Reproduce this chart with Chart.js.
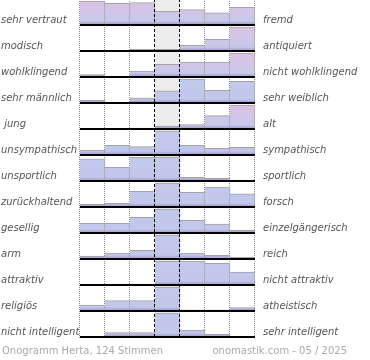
<!DOCTYPE html>
<html>
<head>
<meta charset="utf-8">
<script src="https://cdn.jsdelivr.net/npm/chart.js@4/dist/chart.umd.min.js"></script>
<style>
  html, body { margin: 0; padding: 0; background: #fff; width: 370px; height: 360px; overflow: hidden; }
  #wrap { position: relative; width: 370px; height: 360px; }
  #c { position: absolute; left: 0; top: -1px; }
  .foot { position: absolute; top: 345px; font: 10px "DejaVu Sans", sans-serif; color: #aaa; white-space: nowrap; }
</style>
</head>
<body>
<div id="wrap">
  <canvas id="c" width="370" height="361"></canvas>
  <div class="foot" id="footL" style="left:2px;"></div>
  <div class="foot" id="footR" style="right:23px;"></div>
</div>
<script>
// ---- data ----
const categories = ['1', '2', '3', '4', '5', '6', '7'];
const leftLabels = ['sehr vertraut', 'modisch', 'wohlklingend', 'sehr männlich', ' jung', 'unsympathisch',
  'unsportlich', 'zurückhaltend', 'gesellig', 'arm', 'attraktiv', 'religiös', 'nicht intelligent'];
const rightLabels = ['fremd', 'antiquiert', 'nicht wohlklingend', 'sehr weiblich', 'alt', 'sympathisch',
  'sportlich', 'forsch', 'einzelgängerisch', 'reich', 'nicht attraktiv', 'atheistisch', 'sehr intelligent'];
// relative share per answer (row maximum = 100)
const rowValues = [
  [100, 90, 93, 57, 64, 51, 74],
  [0, 0, 7, 7, 24, 49, 100],
  [10, 0, 25, 53, 62, 62, 100],
  [12, 0, 22, 51, 100, 53, 90],
  [0, 0, 4, 12, 18, 56, 100],
  [21, 40, 35, 100, 40, 28, 32],
  [92, 57, 99, 100, 15, 11, 4],
  [11, 15, 65, 100, 61, 83, 55],
  [40, 40, 65, 100, 53, 37, 11],
  [12, 25, 36, 100, 25, 15, 7],
  [2, 4, 4, 99, 100, 90, 54],
  [25, 43, 43, 100, 5, 5, 14],
  [2, 18, 18, 100, 29, 12, 2]
];
const footLeft = 'Onogramm Herta, 124 Stimmen';
const footRight = 'onomastik.com - 05 / 2025';

// ---- styling ----
const pinkRows = [true, true, true, false, true, false, false, false, false, false, false, false, false];
const FILL = 24 / 26; // max bar height relative to row height

document.getElementById('footL').textContent = footLeft;
document.getElementById('footR').textContent = footRight;

const nRows = rowValues.length;

function barFill(ctx) {
  const chart = ctx.chart;
  const y = chart.scales.y;
  if (!chart.chartArea || !y) return '#c4cae9';
  const r = ctx.datasetIndex;
  const top = y.getPixelForValue(r);
  const bot = y.getPixelForValue(r + 1);
  const g = chart.ctx.createLinearGradient(0, top, 0, bot);
  if (pinkRows[r]) {
    g.addColorStop(0, '#dcc3e3');
    g.addColorStop(0.45, '#d2c4e6');
    g.addColorStop(0.85, '#c6c9ea');
  } else {
    g.addColorStop(0, '#c2c9eb');
    g.addColorStop(0.85, '#c1c7ea');
  }
  g.addColorStop(0.9, '#b9b6de');
  g.addColorStop(1, '#a393c8');
  return g;
}

const datasets = rowValues.map((vals, r) => ({
  label: leftLabels[r] + ' / ' + rightLabels[r],
  data: vals.map(v => [r + 1 - (v / 100) * FILL, r + 1]),
  backgroundColor: barFill,
  borderColor: '#a2a2a2',
  borderWidth: { top: 1, right: 1, left: 0, bottom: 0 },
  borderSkipped: false,
  grouped: false,
  barPercentage: 1,
  categoryPercentage: 1,
  yAxisID: 'y'
}));

function rowTicks(scale) {
  scale.ticks = leftLabels.map((_, i) => ({ value: i + 0.5 }));
}

const decor = {
  id: 'decor',
  beforeDatasetsDraw(chart) {
    const { ctx, chartArea: a, scales: { x } } = chart;
    const w = x.getPixelForValue(1) - x.getPixelForValue(0);
    ctx.save();
    // highlighted neutral column
    const cx = x.getPixelForValue(3);
    ctx.fillStyle = '#ededed';
    ctx.fillRect(cx - w / 2, a.top, w, a.bottom - a.top);
    // dotted boundaries
    ctx.strokeStyle = '#8a8a8a';
    ctx.lineWidth = 1;
    ctx.setLineDash([1, 1]);
    for (let i = 0; i <= categories.length; i++) {
      if (i === 3 || i === 4) continue;
      const bx = Math.round(x.getPixelForValue(0) - w / 2 + i * w) - 0.5;
      ctx.beginPath();
      ctx.moveTo(bx, a.top);
      ctx.lineTo(bx, a.bottom + 1);
      ctx.stroke();
    }
    ctx.restore();
  },
  afterDatasetsDraw(chart) {
    const { ctx, chartArea: a, scales: { x, y } } = chart;
    const w = x.getPixelForValue(1) - x.getPixelForValue(0);
    ctx.save();
    // dashed neutral column borders
    ctx.strokeStyle = '#000';
    ctx.lineWidth = 1;
    ctx.setLineDash([3, 2]);
    [3, 4].forEach(i => {
      const bx = Math.round(x.getPixelForValue(0) - w / 2 + i * w) - 0.5;
      ctx.beginPath();
      ctx.moveTo(bx, a.top);
      ctx.lineTo(bx, a.bottom + 1);
      ctx.stroke();
    });
    // row baselines
    ctx.setLineDash([]);
    ctx.lineWidth = 2;
    for (let r = 0; r < nRows; r++) {
      const by = Math.round(y.getPixelForValue(r + 1));
      ctx.beginPath();
      ctx.moveTo(a.left, by);
      ctx.lineTo(a.right, by);
      ctx.stroke();
    }
    ctx.restore();
  }
};

const tickFont = { family: 'DejaVu Sans', size: 10, style: 'italic' };

new Chart(document.getElementById('c'), {
  type: 'bar',
  data: { labels: categories, datasets },
  options: {
    responsive: false,
    animation: false,
    devicePixelRatio: 1,
    layout: { padding: { left: 1, right: 0, top: 0, bottom: 23 } },
    plugins: { legend: { display: false }, tooltip: { enabled: false } },
    scales: {
      x: { type: 'category', display: false, offset: true },
      y: {
        type: 'linear', position: 'left', min: 0, max: nRows, reverse: true,
        grid: { display: false }, border: { display: false },
        afterBuildTicks: rowTicks,
        afterFit(s) { s.width = 79; s.paddingTop = 0; s.paddingBottom = 0; },
        ticks: {
          autoSkip: false, crossAlign: 'far', padding: 4, labelOffset: 8,
          color: '#555', font: tickFont,
          callback: (v, i) => leftLabels[i]
        }
      },
      y2: {
        type: 'linear', position: 'right', min: 0, max: nRows, reverse: true,
        grid: { display: false }, border: { display: false },
        afterBuildTicks: rowTicks,
        afterFit(s) { s.width = 115; s.paddingTop = 0; s.paddingBottom = 0; },
        ticks: {
          autoSkip: false, padding: 0, labelOffset: 8,
          color: '#555', font: tickFont,
          callback: (v, i) => rightLabels[i]
        }
      }
    }
  },
  plugins: [decor]
});
</script>
</body>
</html>
